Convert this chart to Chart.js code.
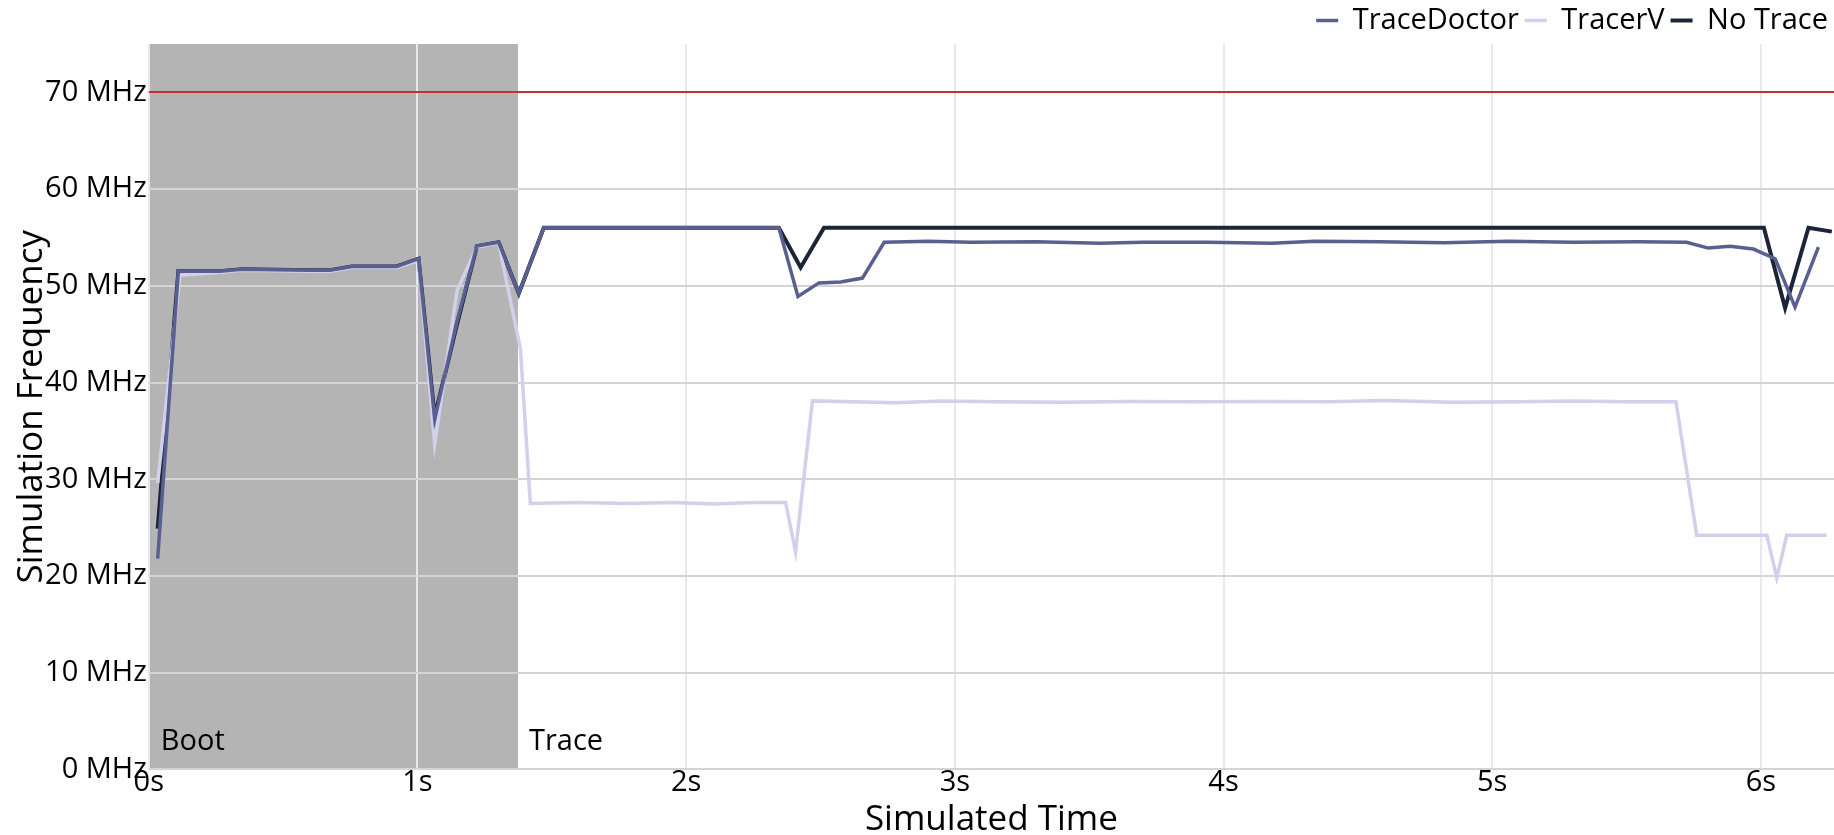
<!DOCTYPE html>
<html>
<head>
<meta charset="utf-8">
<script src="https://cdn.jsdelivr.net/npm/chart.js@4.4.1/dist/chart.umd.min.js"></script>
<style>
  html, body { margin: 0; padding: 0; background: #ffffff; }
  #wrap { width: 1834px; height: 835px; position: relative; }
</style>
</head>
<body>
<div id="wrap"><canvas id="c"></canvas></div>
<script>
// ---- data ----
const seriesNames = ['TraceDoctor', 'TracerV', 'No Trace'];

const traceDoctorTime = [0.033, 0.110, 0.265, 0.346, 0.594, 0.675, 0.756, 0.923, 1.004, 1.064, 1.147, 1.221, 1.302, 1.377, 1.470,
  2.345, 2.416, 2.494, 2.575, 2.656, 2.737, 2.90, 3.06, 3.30, 3.54, 3.70, 3.94, 4.18, 4.34, 4.58, 4.82, 5.06, 5.30, 5.54,
  5.723, 5.804, 5.885, 5.972, 6.053, 6.127, 6.214];
const traceDoctorMHz = [21.8, 51.5, 51.5, 51.7, 51.6, 51.6, 52.0, 52.0, 52.8, 36.2, 46.3, 54.1, 54.5, 49.2, 56.0,
  56.0, 48.9, 50.3, 50.4, 50.8, 54.5, 54.6, 54.5, 54.55, 54.4, 54.5, 54.5, 54.4, 54.6, 54.55, 54.45, 54.6, 54.5, 54.55,
  54.5, 53.9, 54.1, 53.8, 52.8, 47.8, 54.0];

const tracerVTime = [0.033, 0.116, 0.265, 0.346, 0.594, 0.675, 0.756, 0.923, 1.004, 1.064, 1.147, 1.221, 1.302, 1.383, 1.420,
  1.60, 1.78, 1.95, 2.10, 2.25, 2.370, 2.407, 2.470, 2.62, 2.78, 2.95, 3.15, 3.40, 3.65, 3.90, 4.15, 4.40, 4.60, 4.85,
  5.10, 5.30, 5.50, 5.684, 5.761, 6.022, 6.059, 6.096, 6.245];
const tracerVMHz = [29.6, 51.1, 51.4, 51.6, 51.5, 51.5, 51.9, 51.9, 52.6, 33.6, 49.5, 54.0, 54.4, 43.5, 27.5,
  27.6, 27.5, 27.6, 27.45, 27.6, 27.6, 22.5, 38.1, 38.0, 37.9, 38.1, 38.0, 37.95, 38.05, 38.0, 38.05, 38.0, 38.15, 37.95,
  38.0, 38.1, 38.0, 38.0, 24.2, 24.2, 19.8, 24.2, 24.2];

const noTraceTime = [0.033, 0.110, 0.265, 0.346, 0.594, 0.675, 0.756, 0.923, 1.004, 1.064, 1.147, 1.221, 1.302, 1.377, 1.470,
  2.345, 2.426, 2.513, 6.011, 6.090, 6.177, 6.264];
const noTraceMHz = [24.9, 51.5, 51.5, 51.7, 51.6, 51.6, 52.0, 52.0, 52.8, 36.5, 46.0, 54.1, 54.5, 49.2, 56.0,
  56.0, 51.9, 56.0, 56.0, 47.7, 56.0, 55.6];

const xTicks = [0, 1, 2, 3, 4, 5, 6];          // seconds
const yTicks = [0, 10, 20, 30, 40, 50, 60, 70]; // MHz
const thresholdMHz = 70;
const bootStart = 0, bootEnd = 1.374;
const phaseLabels = ['Boot', 'Trace'];

// ---- styles ----
const FONT = "'Open Sans', 'Noto Sans', sans-serif";
Chart.defaults.font.family = FONT;
Chart.defaults.color = '#000';

function pts(ts, vs) { return ts.map((t, i) => ({ x: t, y: vs[i] })); }

const overlay = {
  id: 'overlay',
  beforeDraw(chart) {
    const { ctx, chartArea: a, scales: { x } } = chart;
    const x0 = x.getPixelForValue(bootStart), x1 = x.getPixelForValue(bootEnd);
    ctx.save();
    ctx.fillStyle = '#b4b4b4';
    ctx.fillRect(x0, a.top, x1 - x0, a.bottom - a.top);
    ctx.restore();
  },
  beforeDatasetsDraw(chart) {
    const { ctx, chartArea: a, scales: { x, y } } = chart;
    const yr = Math.round(y.getPixelForValue(thresholdMHz));
    ctx.save();
    ctx.strokeStyle = '#c4302b';
    ctx.lineWidth = 2;
    ctx.beginPath();
    ctx.moveTo(a.left, yr);
    ctx.lineTo(a.right, yr);
    ctx.stroke();
    ctx.fillStyle = '#000';
    ctx.font = "29px " + FONT;
    ctx.textBaseline = 'alphabetic';
    ctx.textAlign = 'left';
    ctx.fillText(phaseLabels[0], x.getPixelForValue(bootStart) + 12, a.bottom - 19);
    ctx.fillText(phaseLabels[1], x.getPixelForValue(bootEnd) + 11, a.bottom - 19);
    ctx.restore();
  }
};

new Chart(document.getElementById('c'), {
  type: 'line',
  data: {
    datasets: [
      { label: seriesNames[0], data: pts(traceDoctorTime, traceDoctorMHz), borderColor: '#5a5f92', backgroundColor: '#5a5f92', borderWidth: 3.5 },
      { label: seriesNames[1], data: pts(tracerVTime, tracerVMHz), borderColor: '#d2d0ec', backgroundColor: '#d2d0ec', borderWidth: 3.5 },
      { label: seriesNames[2], data: pts(noTraceTime, noTraceMHz), borderColor: '#1c2538', backgroundColor: '#1c2538', borderWidth: 4 }
    ]
  },
  options: {
    responsive: true,
    maintainAspectRatio: false,
    animation: false,
    parsing: true,
    elements: { point: { radius: 0, hoverRadius: 0 }, line: { tension: 0, fill: false } },
    layout: { padding: { left: 21, right: 0, top: 0, bottom: 4.5 } },
    plugins: {
      tooltip: { enabled: false },
      legend: {
        display: true,
        position: 'top',
        align: 'end',
        maxHeight: 44,
        labels: {
          usePointStyle: true,
          pointStyle: 'line',
          pointStyleWidth: 22,
          boxHeight: 29,
          padding: 6,
          color: '#000',
          font: { size: 29, family: FONT }
        }
      }
    },
    scales: {
      x: {
        type: 'linear',
        min: 0,
        max: 6.272,
        afterBuildTicks: (s) => { s.ticks = xTicks.map(v => ({ value: v })); },
        ticks: { callback: (v) => v + 's', padding: -1, maxRotation: 0, autoSkip: false,
                 font: { size: 29, lineHeight: 1.0 }, color: '#000' },
        grid: { color: '#e8e8ef', lineWidth: 2, drawTicks: false },
        border: { display: false },
        title: { display: true, text: 'Simulated Time', color: '#000',
                 font: { size: 35, lineHeight: 0.86 }, padding: { top: 9, bottom: -5 } }
      },
      y: {
        type: 'linear',
        min: 0,
        max: 75,
        afterBuildTicks: (s) => { s.ticks = yTicks.map(v => ({ value: v })); },
        ticks: { callback: (v) => v + ' MHz', padding: 2, autoSkip: false,
                 font: { size: 29, lineHeight: 1.0 }, color: '#000' },
        grid: { color: '#d4d4d4', lineWidth: 2, drawTicks: false },
        border: { display: false },
        title: { display: true, text: 'Simulation Frequency', color: '#000',
                 font: { size: 35, lineHeight: 0.63 }, padding: { top: 0, bottom: 0 } }
      }
    }
  },
  plugins: [overlay]
});
</script>
</body>
</html>
